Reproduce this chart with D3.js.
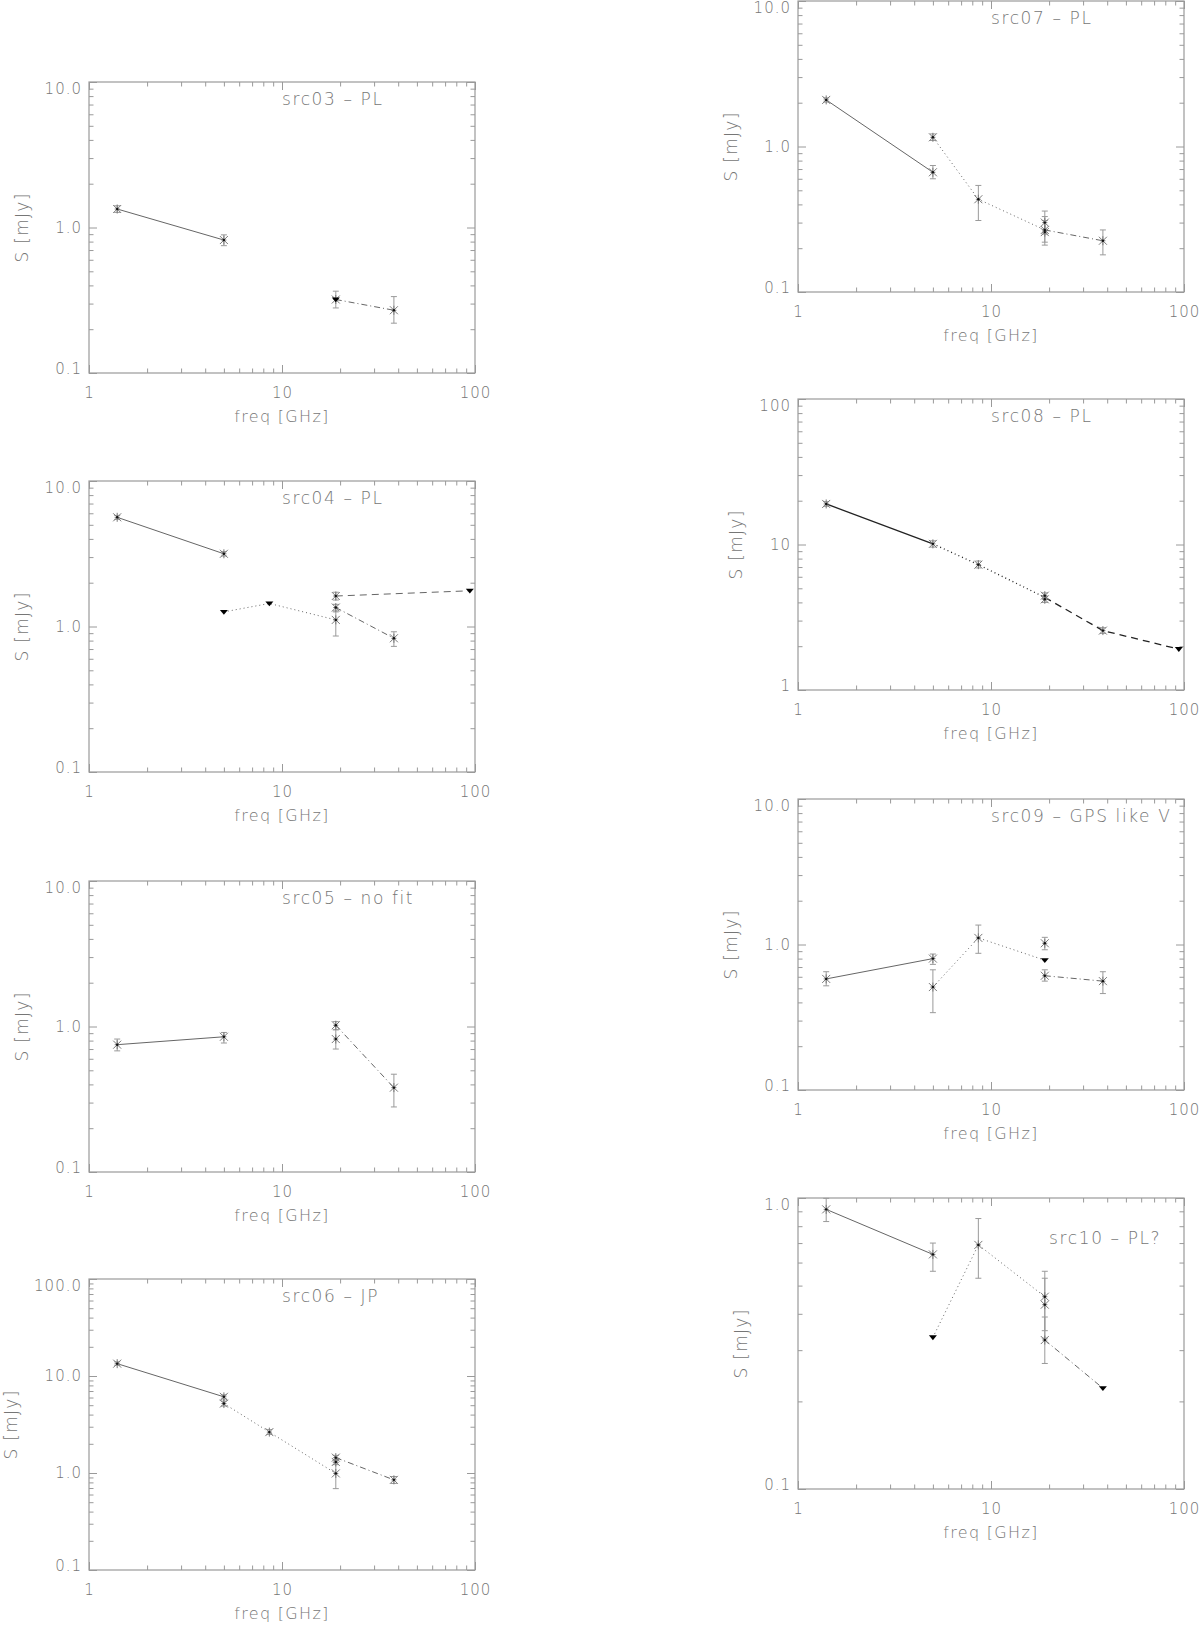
<!DOCTYPE html>
<html>
<head>
<meta charset="utf-8">
<script src="https://cdn.jsdelivr.net/npm/d3@7"></script>
<style>
  body { margin: 0; background: #fff; }
  svg { display: block; }
  text { font-family: "DejaVu Sans", "Liberation Sans", sans-serif; font-weight: 300; fill: #767676; letter-spacing: 1px; }
</style>
</head>
<body>
<div id="chart"></div>
<script>
// points: [freq GHz, S mJy, error bar low, error bar high]
// limits: [freq GHz, S mJy] (upper limits, drawn as filled triangles)
// lines: [freq GHz, S mJy] vertices of the connecting lines

const src03Points = [[1.4, 1.34, 1.27, 1.41], [5.0, 0.82, 0.75, 0.89], [19, 0.32, 0.28, 0.365], [38, 0.27, 0.22, 0.335]]
const src03Limits = [[19, 0.32]]
const src03Solid = [[1.4, 1.34], [5.0, 0.82]]
const src03DashDot = [[19, 0.32], [38, 0.27]]

const src04Points = [[1.4, 5.63, 5.45, 5.8], [5.0, 3.16, 3.05, 3.27], [19, 1.62, 1.52, 1.72], [19, 1.35, 1.28, 1.42], [19, 1.11, 0.86, 1.26], [38, 0.83, 0.73, 0.92]]
const src04Limits = [[5.0, 1.26], [8.6, 1.44], [94, 1.76]]
const src04Solid = [[1.4, 5.63], [5.0, 3.16]]
const src04Dotted = [[5.0, 1.26], [8.6, 1.44], [19, 1.11]]
const src04DashDot = [[19, 1.35], [38, 0.83]]
const src04Dashed = [[19, 1.62], [94, 1.76]]

const src05Points = [[1.4, 0.75, 0.68, 0.82], [5.0, 0.85, 0.77, 0.91], [19, 1.02, 0.95, 1.08], [19, 0.82, 0.70, 0.95], [38, 0.38, 0.28, 0.47]]
const src05Solid = [[1.4, 0.75], [5.0, 0.85]]
const src05DashDot = [[19, 1.02], [38, 0.38]]

const src06Points = [[1.4, 13.4, 12.9, 14.0], [5.0, 6.1, 5.8, 6.4], [5.0, 5.2, 4.9, 5.5], [8.6, 2.64, 2.5, 2.8], [19, 1.44, 1.36, 1.52], [19, 1.30, 1.22, 1.38], [19, 0.99, 0.69, 1.28], [38, 0.85, 0.78, 0.92]]
const src06Solid = [[1.4, 13.4], [5.0, 6.1]]
const src06Dotted = [[5.0, 5.2], [8.6, 2.64], [19, 0.99]]
const src06DashDot = [[19, 1.44], [38, 0.85]]

const src07Points = [[1.4, 2.09, 2.02, 2.16], [5.0, 1.157, 1.10, 1.22], [5.0, 0.665, 0.60, 0.74], [8.6, 0.434, 0.31, 0.54], [19, 0.30, 0.25, 0.36], [19, 0.267, 0.22, 0.33], [19, 0.258, 0.21, 0.31], [38, 0.225, 0.18, 0.267]]
const src07Solid = [[1.4, 2.09], [5.0, 0.665]]
const src07Dotted = [[5.0, 1.157], [8.6, 0.434], [19, 0.267]]
const src07DashDot = [[19, 0.267], [38, 0.225]]

const src08Points = [[1.4, 19.0, 18.3, 19.7], [5.0, 10.1, 9.6, 10.6], [8.6, 7.27, 6.9, 7.7], [19, 4.45, 4.25, 4.65], [19, 4.2, 4.0, 4.4], [38, 2.56, 2.45, 2.68]]
const src08Limits = [[94, 1.91]]
const src08Solid = [[1.4, 19.0], [5.0, 10.1]]
const src08Dotted = [[5.0, 10.1], [8.6, 7.27], [19, 4.33]]
const src08Dashed = [[19, 4.33], [38, 2.56], [94, 1.91]]

const src09Points = [[1.4, 0.58, 0.52, 0.65], [5.0, 0.80, 0.73, 0.86], [5.0, 0.51, 0.34, 0.67], [8.6, 1.11, 0.87, 1.36], [19, 1.02, 0.92, 1.12], [19, 0.61, 0.56, 0.67], [38, 0.56, 0.46, 0.65]]
const src09Limits = [[19, 0.78]]
const src09Solid = [[1.4, 0.58], [5.0, 0.80]]
const src09Dotted = [[5.0, 0.51], [8.6, 1.11], [19, 0.78]]
const src09DashDot = [[19, 0.61], [38, 0.56]]

const src10Points = [[1.4, 0.914, 0.83, 0.997], [5.0, 0.64, 0.56, 0.70], [8.6, 0.69, 0.53, 0.85], [19, 0.458, 0.35, 0.56], [19, 0.43, 0.33, 0.53], [19, 0.325, 0.27, 0.39]]
const src10Limits = [[5.0, 0.332], [38, 0.222]]
const src10Solid = [[1.4, 0.914], [5.0, 0.64]]
const src10Dotted = [[5.0, 0.332], [8.6, 0.69], [19, 0.458]]
const src10DashDot = [[19, 0.325], [38, 0.222]]

const xTickLabels = [1, 10, 100]
const xTitle = 'freq [GHz]'
const yTitle = 'S [mJy]'

// layout of the eight panels (pixel box of each plot area)
const width = 1200
const height = 1625
const boxW = 386
const boxH = 291
const colX = [89, 798]

const panels = [
  {title: 'src03 – PL', x: colX[0], y: 82, yDomain: [0.1, 10], fmt: '.1f', points: src03Points, limits: src03Limits,
   lines: [['solid', src03Solid], ['dashdot', src03DashDot]]},
  {title: 'src04 – PL', x: colX[0], y: 481, yDomain: [0.1, 10], fmt: '.1f', points: src04Points, limits: src04Limits,
   lines: [['solid', src04Solid], ['dotted', src04Dotted], ['dashdot', src04DashDot], ['dashed', src04Dashed]]},
  {title: 'src05 – no fit', x: colX[0], y: 881, yDomain: [0.1, 10], fmt: '.1f', points: src05Points, limits: [],
   lines: [['solid', src05Solid], ['dashdot', src05DashDot]]},
  {title: 'src06 – JP', x: colX[0], y: 1279, yDomain: [0.1, 100], fmt: '.1f', points: src06Points, limits: [],
   lines: [['solid', src06Solid], ['dotted', src06Dotted], ['dashdot', src06DashDot]]},
  {title: 'src07 – PL', x: colX[1], y: 1, yDomain: [0.1, 10], fmt: '.1f', points: src07Points, limits: [],
   lines: [['solid', src07Solid], ['dotted', src07Dotted], ['dashdot', src07DashDot]]},
  {title: 'src08 – PL', x: colX[1], y: 399, yDomain: [1, 100], fmt: 'd', points: src08Points, limits: src08Limits, dark: true,
   lines: [['solid', src08Solid], ['dotted', src08Dotted], ['dashed', src08Dashed]]},
  {title: 'src09 – GPS like V', x: colX[1], y: 799, yDomain: [0.1, 10], fmt: '.1f', points: src09Points, limits: src09Limits,
   lines: [['solid', src09Solid], ['dotted', src09Dotted], ['dashdot', src09DashDot]]},
  {title: 'src10 – PL?', x: colX[1], y: 1198, yDomain: [0.1, 1], fmt: '.1f', points: src10Points, limits: src10Limits,
   titleAt: 20, titleY: 40,
   lines: [['solid', src10Solid], ['dotted', src10Dotted], ['dashdot', src10DashDot]]}
]

const dashes = {solid: null, dotted: '1,3', dashdot: '6,3,1,3', dashed: '7,5'}
const axisColor = '#9a9a9a'

const svg = d3.select('#chart').append('svg')
  .attr('width', width)
  .attr('height', height)

// minor ticks 2..9 for every decade of a log domain
function minorTicks(domain) {
  const out = []
  for (let e = Math.round(Math.log10(domain[0])); e < Math.round(Math.log10(domain[1])); e++) {
    for (let m = 2; m <= 9; m++) out.push(m * Math.pow(10, e))
  }
  return out
}
function majorTicks(domain) {
  const out = []
  for (let e = Math.round(Math.log10(domain[0])); e <= Math.round(Math.log10(domain[1])); e++) out.push(Math.pow(10, e))
  return out
}

function styleAxis(sel) {
  sel.select('.domain').remove()
  sel.selectAll('line').attr('stroke', axisColor)
  sel.selectAll('text').attr('fill', '#767676').style('font-size', '15px')
}

function drawPanel(p) {
  const g = svg.append('g').attr('transform', 'translate(' + p.x + ',' + p.y + ')')
  const x = d3.scaleLog().domain([1, 100]).range([0, boxW])
  const y = d3.scaleLog().domain(p.yDomain).range([boxH, 0])
  const yMajors = majorTicks(p.yDomain)

  // x axes, bottom (labelled) and top
  g.append('g').attr('transform', 'translate(0,' + boxH + ')')
    .call(d3.axisBottom(x).tickValues(xTickLabels).tickSize(-8).tickPadding(14).tickFormat(d3.format('d'))).call(styleAxis)
  g.append('g').attr('transform', 'translate(0,' + boxH + ')')
    .call(d3.axisBottom(x).tickValues(minorTicks([1, 100])).tickSize(-4.5).tickFormat('')).call(styleAxis)
  g.append('g')
    .call(d3.axisTop(x).tickValues(xTickLabels).tickSize(-8).tickFormat('')).call(styleAxis)
  g.append('g')
    .call(d3.axisTop(x).tickValues(minorTicks([1, 100])).tickSize(-4.5).tickFormat('')).call(styleAxis)

  // y axes, left (labelled) and right
  const yAxisG = g.append('g')
    .call(d3.axisLeft(y).tickValues(yMajors).tickSize(-8).tickPadding(7).tickFormat(d3.format(p.fmt))).call(styleAxis)
  g.append('g')
    .call(d3.axisLeft(y).tickValues(minorTicks(p.yDomain)).tickSize(-4.5).tickFormat('')).call(styleAxis)
  g.append('g').attr('transform', 'translate(' + boxW + ',0)')
    .call(d3.axisRight(y).tickValues(yMajors).tickSize(-8).tickFormat('')).call(styleAxis)
  g.append('g').attr('transform', 'translate(' + boxW + ',0)')
    .call(d3.axisRight(y).tickValues(minorTicks(p.yDomain)).tickSize(-4.5).tickFormat('')).call(styleAxis)

  // the end labels sit a little inside the frame
  const yLabels = yAxisG.selectAll('.tick text')
  yLabels.filter((d, i) => i === 0).attr('y', -4)
  yLabels.filter((d, i) => i === yMajors.length - 1).attr('y', 7)
  let maxW = 0
  yLabels.each(function() { maxW = Math.max(maxW, this.getComputedTextLength()) })

  // frame
  g.append('rect')
    .attr('width', boxW).attr('height', boxH)
    .attr('fill', 'none').attr('stroke', axisColor).attr('stroke-width', 1.2)

  // axis titles
  g.append('text')
    .attr('x', boxW / 2).attr('y', boxH + 43).attr('dy', '0.35em')
    .attr('text-anchor', 'middle').style('font-size', '16px').style('letter-spacing', '1.3px')
    .text(xTitle)
  g.append('text')
    .attr('transform', 'translate(' + (-(7 + maxW + 23)) + ',' + (boxH / 2) + ') rotate(-90)')
    .attr('dy', '0.35em').attr('text-anchor', 'middle').style('font-size', '17px').style('letter-spacing', '1.3px')
    .text(yTitle)

  // panel title
  g.append('text')
    .attr('x', x(p.titleAt || 10)).attr('y', p.titleY || 17).attr('dy', '0.35em')
    .style('font-size', '17px').style('letter-spacing', '1.6px')
    .text(p.title)

  // connecting lines
  const line = d3.line().x(d => x(d[0])).y(d => y(d[1]))
  p.lines.forEach(([style, pts]) => {
    g.append('path')
      .datum(pts)
      .attr('fill', 'none')
      .attr('stroke', p.dark ? '#222' : '#666')
      .attr('stroke-width', p.dark ? 1.3 : 1)
      .attr('stroke-dasharray', dashes[style])
      .attr('d', line)
  })

  // error bars
  const eb = g.append('g').attr('stroke', '#9a9a9a').attr('stroke-width', 1)
  p.points.forEach(d => {
    const cx = x(d[0])
    eb.append('line').attr('x1', cx).attr('x2', cx).attr('y1', y(d[2])).attr('y2', y(d[3]))
    eb.append('line').attr('x1', cx - 3).attr('x2', cx + 3).attr('y1', y(d[2])).attr('y2', y(d[2]))
    eb.append('line').attr('x1', cx - 3).attr('x2', cx + 3).attr('y1', y(d[3])).attr('y2', y(d[3]))
  })

  // asterisk markers
  const star = 'M-4,-4L4,4M-4,4L4,-4M0,-4.5L0,4.5M-2.5,0L2.5,0'
  g.append('g').selectAll('path.star')
    .data(p.points)
    .join('path')
    .attr('transform', d => 'translate(' + x(d[0]) + ',' + y(d[1]) + ')')
    .attr('d', star)
    .attr('fill', 'none')
    .attr('stroke', '#7a7a7a')
    .attr('stroke-width', 1)
  g.append('g').selectAll('circle')
    .data(p.points)
    .join('circle')
    .attr('cx', d => x(d[0]))
    .attr('cy', d => y(d[1]))
    .attr('r', 1.2)
    .attr('fill', '#111')

  // upper limits
  g.append('g').selectAll('path.lim')
    .data(p.limits)
    .join('path')
    .attr('transform', d => 'translate(' + x(d[0]) + ',' + y(d[1]) + ')')
    .attr('d', 'M-4,-2L4,-2L0,2.8Z')
    .attr('fill', '#000')
}

panels.forEach(drawPanel)
</script>
</body>
</html>
